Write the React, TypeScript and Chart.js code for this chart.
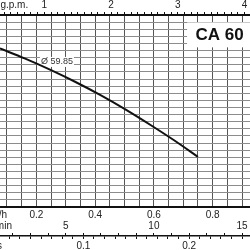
import React, { useEffect, useRef } from "react";
import { Chart, registerables } from "chart.js";

Chart.register(...registerables);

// ---- data ----
const flowM3h = [0.076, 0.16, 0.25, 0.33, 0.42, 0.5, 0.59, 0.67, 0.75];
const headM = [22.3, 20.9, 19.25, 17.65, 15.7, 13.8, 11.5, 9.35, 7.05];

// tick labels of the four flow axes
const m3hTickLabels = [0.2, 0.4, 0.6, 0.8];
const gpmTickLabels = [1, 2, 3, 4];
const lminTickLabels = [5, 10, 15];
const lsTickLabels = [0.1, 0.2];

// unit names and where they sit (in each axis' own unit)
const unitM3h = "m³/h";
const unitM3hAt = 0.066;
const unitGpm = "g.p.m.";
const unitGpmAt = 0.55;
const unitLmin = "l/min";
const unitLminAt = 1.35;
const unitLs = "l/s";
const unitLsAt = 0.0183;

// annotations
const curveLabel = "Ø 59.85";
const curveLabelAt = [0.27, 20.4];
const modelName = "CA 60";
const modelNameAt = [0.824, 24.2];
const modelBoxX = [0.713, 0.93];
const modelBoxY = [22.45, 25.95];

// visible ranges
const X_MIN = 0.0762;
const X_MAX = 0.9272;
const Y_MIN = 0;
const Y_MAX = 27;

const M3H_PER_GPM = 0.227125;
const LMIN_PER_M3H = 1000 / 60;
const LS_PER_M3H = 1 / 3.6;

const near = (a: number, b: number) => Math.abs(a - b) < 1e-6;

const m3hGrid: number[] = [];
for (let i = 2; i <= 18; i++) m3hGrid.push(Math.round(i * 5) / 100);
const gpmMinor: number[] = [];
for (let i = 4; i <= 40; i++) gpmMinor.push(i / 10);
const lminMinor: number[] = [];
for (let i = 2; i <= 15; i++) lminMinor.push(i);
const lsMinor: number[] = [];
for (let i = 3; i <= 25; i++) lsMinor.push(i / 100);
const yGrid: number[] = [];
for (let i = Y_MIN; i <= Y_MAX; i++) yGrid.push(i);

const FONT = '"Liberation Sans", Arial, Helvetica, sans-serif';

function labeler(list: number[], unit: string, unitAt: number) {
  return (v: any) => {
    const n = Number(v);
    if (near(n, unitAt)) return unit;
    const hit = list.find((l) => near(l, n));
    return hit === undefined ? "" : String(hit);
  };
}

function setTicks(values: number[], unitAt: number | null) {
  return (s: any) => {
    const vals = values.slice();
    if (unitAt !== null) vals.push(unitAt);
    vals.sort((a, b) => a - b);
    s.ticks = vals.map((v) => ({ value: v }));
  };
}

function fixHeight(h: number) {
  return (s: any) => {
    s.height = h;
    s.paddingLeft = 0;
    s.paddingRight = 0;
    s.paddingTop = 0;
    s.paddingBottom = 0;
  };
}

const tickColorFor = (unit: string) => (ctx: any) =>
  ctx.tick && ctx.tick.label === unit ? "rgba(0,0,0,0)" : "#111";

const annotations = {
  id: "pumpAnnotations",
  beforeDatasetsDraw(chart: any) {
    const { ctx, scales, chartArea } = chart;
    const x = scales.x;
    const y = scales.y;
    ctx.save();
    // model name box
    const bl = x.getPixelForValue(modelBoxX[0]);
    const br = Math.min(x.getPixelForValue(modelBoxX[1]), chartArea.right);
    const bt = y.getPixelForValue(modelBoxY[1]);
    const bb = y.getPixelForValue(modelBoxY[0]);
    ctx.fillStyle = "#ffffff";
    ctx.fillRect(bl, bt, br - bl, bb - bt);
    ctx.fillStyle = "#111";
    ctx.font = `bold 17px ${FONT}`;
    ctx.textAlign = "center";
    ctx.textBaseline = "middle";
    ctx.fillText(modelName, x.getPixelForValue(modelNameAt[0]), y.getPixelForValue(modelNameAt[1]));
    // curve label
    ctx.font = `9px ${FONT}`;
    const lx = x.getPixelForValue(curveLabelAt[0]);
    const ly = y.getPixelForValue(curveLabelAt[1]);
    const w = ctx.measureText(curveLabel).width;
    ctx.fillStyle = "#ffffff";
    ctx.fillRect(lx - w / 2 - 1, ly - 5, w + 2, 10);
    ctx.fillStyle = "#333";
    ctx.fillText(curveLabel, lx, ly);
    ctx.restore();
  },
};

export default function App() {
  const ref = useRef<HTMLCanvasElement | null>(null);

  useEffect(() => {
    if (!ref.current) return;
    Chart.defaults.font.family = FONT;
    const tickFont = { size: 10, family: FONT };
    const chart = new Chart(ref.current, {
      type: "line",
      data: {
        datasets: [
          {
            data: flowM3h.map((q, i) => ({ x: q, y: headM[i] })),
            borderColor: "#111",
            borderWidth: 2,
            pointRadius: 0,
            cubicInterpolationMode: "monotone",
            fill: false,
          },
        ],
      },
      options: {
        animation: false,
        responsive: false,
        devicePixelRatio: 1,
        events: [],
        layout: { padding: 0 },
        plugins: { legend: { display: false }, tooltip: { enabled: false } },
        scales: {
          x: {
            type: "linear",
            axis: "x",
            position: "bottom",
            weight: 0,
            min: X_MIN,
            max: X_MAX,
            border: { display: true, color: "#111", width: 2 },
            grid: { color: "#555", lineWidth: 1, drawTicks: false },
            ticks: {
              autoSkip: false,
              maxRotation: 0,
              minRotation: 0,
              padding: 2,
              color: "#222",
              font: tickFont,
              callback: labeler(m3hTickLabels, unitM3h, unitM3hAt),
            },
            afterBuildTicks: setTicks(m3hGrid, unitM3hAt),
            afterFit: fixHeight(29),
          },
          gpm: {
            type: "linear",
            axis: "x",
            position: "top",
            min: X_MIN / M3H_PER_GPM,
            max: X_MAX / M3H_PER_GPM,
            border: { display: true, color: "#111", width: 2 },
            grid: { drawOnChartArea: false, drawTicks: true, tickLength: 3, tickWidth: 1, tickColor: tickColorFor(unitGpm) },
            ticks: {
              autoSkip: false,
              maxRotation: 0,
              minRotation: 0,
              padding: 1,
              color: "#222",
              font: tickFont,
              callback: labeler(gpmTickLabels, unitGpm, unitGpmAt),
            },
            afterBuildTicks: setTicks(gpmMinor, unitGpmAt),
            afterFit: fixHeight(15),
          },
          lmin: {
            type: "linear",
            axis: "x",
            position: "bottom",
            weight: 1,
            min: X_MIN * LMIN_PER_M3H,
            max: X_MAX * LMIN_PER_M3H,
            border: { display: false },
            grid: { drawOnChartArea: false, drawTicks: true, tickLength: -3, tickWidth: 1, tickColor: tickColorFor(unitLmin) },
            ticks: {
              autoSkip: false,
              maxRotation: 0,
              minRotation: 0,
              mirror: true,
              padding: 3.5,
              color: "#222",
              font: tickFont,
              callback: labeler(lminTickLabels, unitLmin, unitLminAt),
            },
            afterBuildTicks: setTicks(lminMinor, unitLminAt),
            afterFit: fixHeight(0),
          },
          ls: {
            type: "linear",
            axis: "x",
            position: "bottom",
            weight: 2,
            min: X_MIN * LS_PER_M3H,
            max: X_MAX * LS_PER_M3H,
            border: { display: true, color: "#111", width: 1.5 },
            grid: { drawOnChartArea: false, drawTicks: true, tickLength: 3, tickWidth: 1, tickColor: tickColorFor(unitLs) },
            ticks: {
              autoSkip: false,
              maxRotation: 0,
              minRotation: 0,
              padding: 1,
              color: "#222",
              font: tickFont,
              callback: labeler(lsTickLabels, unitLs, unitLsAt),
            },
            afterBuildTicks: setTicks(lsMinor, unitLsAt),
            afterFit: fixHeight(14),
          },
          y: {
            type: "linear",
            axis: "y",
            position: "left",
            min: Y_MIN,
            max: Y_MAX,
            border: { display: false },
            grid: { color: "#8c8c8c", lineWidth: 1, drawTicks: false },
            ticks: { display: false },
            afterBuildTicks: setTicks(yGrid, null),
            afterFit: (s: any) => {
              s.width = 0;
              s.paddingTop = 0;
              s.paddingBottom = 0;
            },
          },
        },
      } as any,
      plugins: [annotations],
    });
    return () => chart.destroy();
  }, []);

  return (
    <canvas
      ref={ref}
      width={250}
      height={250}
      style={{ position: "absolute", left: 0, top: 0, width: 250, height: 250 }}
    />
  );
}
